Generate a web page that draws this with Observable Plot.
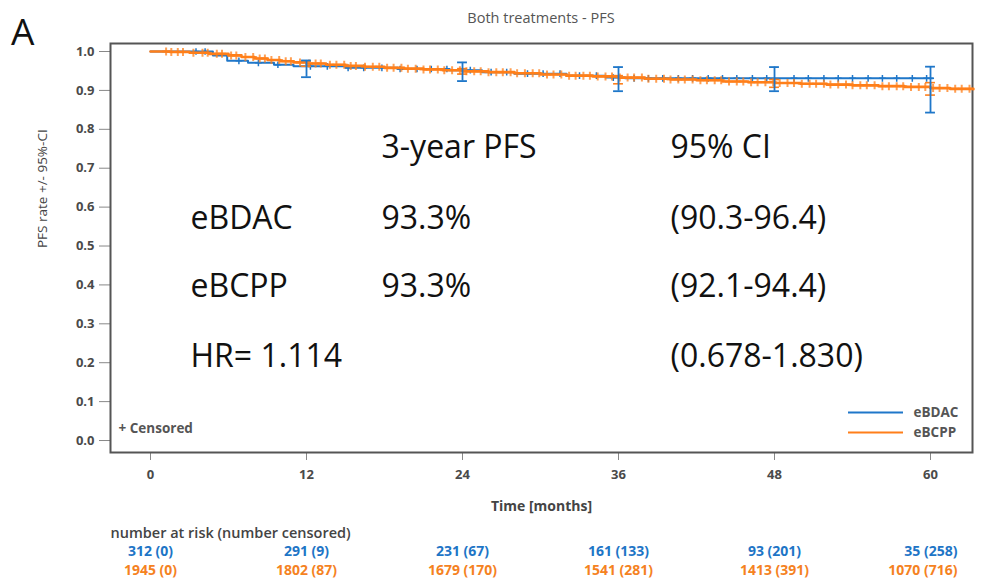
<!DOCTYPE html>
<html><head><meta charset="utf-8">
<script src="https://cdn.jsdelivr.net/npm/d3@7"></script>
<script src="https://cdn.jsdelivr.net/npm/@observablehq/plot@0.6"></script>
<style>
body{margin:0;background:#fff;overflow:hidden}
#wrap{position:relative;width:983px;height:583px}
.ov{position:absolute;font-family:"Open Sans",sans-serif;line-height:1;white-space:nowrap}
</style></head>
<body><div id="wrap">
<div class="ov" style="left:11px;top:12px;font-size:37px;color:#111">A</div>
<div class="ov" style="left:341px;width:400px;top:11px;text-align:center;font-size:14.5px;color:#555">Both treatments - PFS</div>
<div id="chart"></div>
</div>
<script>
// ---- data ----
const blueTimes = [0, 4.8, 5.9, 7.5, 9.5, 11, 15, 19, 23, 25.5, 28, 32, 35, 36.5, 60.2];
const blueSurv  = [1.0, 0.99, 0.976, 0.971, 0.966, 0.962, 0.958, 0.955, 0.952, 0.947, 0.943, 0.938, 0.933, 0.931, 0.931];
const orangeTimes = [0, 1.5, 3, 4.5, 6, 7, 8, 9, 10, 11, 12, 13.5, 15, 16.5, 18, 19.5, 21, 22.5, 24, 26, 28, 30, 32, 34, 36, 38, 40, 42, 44, 46, 48, 50, 52, 54, 56, 58, 60, 61.5, 63.3];
const orangeSurv  = [1.0, 0.999, 0.997, 0.994, 0.99, 0.986, 0.982, 0.978, 0.975, 0.972, 0.969, 0.966, 0.963, 0.961, 0.958, 0.956, 0.954, 0.952, 0.949, 0.947, 0.944, 0.941, 0.938, 0.936, 0.933, 0.93, 0.928, 0.926, 0.923, 0.921, 0.919, 0.917, 0.915, 0.913, 0.911, 0.909, 0.906, 0.904, 0.903];
const blueCensor = [3.5, 4.2, 6.8, 8.3, 9.8, 12.3, 13.6, 15.2, 16.4, 17.8, 19.2, 20.5, 21.6, 22.8, 24.6, 26.2, 27.4, 29.0, 30.2, 31.5, 33.0, 34.3, 35.6, 37.2, 38.3, 39.4, 40.6, 41.7, 42.9, 44.0, 45.1, 46.3, 47.4, 49.5, 50.6, 51.8, 52.9, 54.0, 55.2, 56.3, 57.4, 58.6, 59.7];
const orangeCensor = [1.2,1.6,2.1,2.5,3.3,4.0,4.4,5.1,5.5,6.2,6.6,7.3,7.9,8.4,8.8,9.3,9.9,10.4,10.8,11.5,12.2,12.7,13.1,13.8,14.3,14.9,15.4,15.8,16.5,17.1,17.6,18.2,18.7,19.3,19.8,20.4,21.0,21.5,22.1,22.6,23.2,23.8,24.3,24.9,25.4,26.0,26.6,27.1,27.7,28.2,28.8,29.4,29.9,30.5,31.0,31.6,32.2,32.7,33.3,33.8,34.4,35.0,35.5,36.1,36.7,37.2,37.8,38.3,38.9,39.5,40.0,40.6,41.1,41.7,42.3,42.8,43.4,43.9,44.5,45.1,45.6,46.2,46.7,47.3,47.9,48.4,49.0,49.5,50.1,50.7,51.2,51.8,52.3,52.9,53.5,54.0,54.6,55.1,55.7,56.3,56.8,57.4,57.9,58.5,59.1,59.6,60.2,60.7,61.3,61.9,62.4,63.0];
const ciTimes = [12, 24, 36, 48, 60];
const blueCiLo = [0.934, 0.924, 0.898, 0.898, 0.843];
const blueCiHi = [0.977, 0.972, 0.960, 0.960, 0.961];
const orangeCiLo = [0.962, 0.942, 0.917, 0.908, 0.888];
const orangeCiHi = [0.975, 0.956, 0.938, 0.928, 0.920];
const riskTimes = [0, 12, 24, 36, 48, 60];
const blueRisk = ["312 (0)", "291 (9)", "231 (67)", "161 (133)", "93 (201)", "35 (258)"];
const orangeRisk = ["1945 (0)", "1802 (87)", "1679 (170)", "1541 (281)", "1413 (391)", "1070 (716)"];
const xTicks = [0, 12, 24, 36, 48, 60];
const yTicks = [0, 0.1, 0.2, 0.3, 0.4, 0.5, 0.6, 0.7, 0.8, 0.9, 1.0];
const seriesNames = ["eBDAC", "eBCPP"];
const tableHeader = ["", "3-year PFS", "95% CI"];
const tableRowLabels = ["eBDAC", "eBCPP", "HR= 1.114"];
const tablePFS = ["93.3%", "93.3%", ""];
const tableCI = ["(90.3-96.4)", "(92.1-94.4)", "(0.678-1.830)"];

// ---- layout / style ----
const BLUE = "#1f77c9", ORANGE = "#ff7f1a";
const BLUE_T = "#1e75c6", ORANGE_T = "#f5821f";
const W = 983, H = 583, mL = 110, mR = 11, mT = 43, mB = 131;
const xDomain = [-3.077, 63.23], yDomain = [-0.0308, 1.0206];
const xs = d3.scaleLinear().domain(xDomain).range([mL, W - mR]);
const ys = d3.scaleLinear().domain(yDomain).range([H - mB, mT]);

const km = (times, surv) => times.map((t, i) => ({t, s: surv[i]}));
const stepAt = (times, surv, t) => { let v = surv[0]; for (let i = 0; i < times.length; i++) if (times[i] <= t) v = surv[i]; return v; };
const blueKM = km(blueTimes, blueSurv), orangeKM = km(orangeTimes, orangeSurv);
const blueC = blueCensor.map(t => ({t, s: stepAt(blueTimes, blueSurv, t)}));
const orangeC = orangeCensor.map(t => ({t, s: stepAt(orangeTimes, orangeSurv, t)}));
const blueCI = ciTimes.map((t, i) => ({t, lo: blueCiLo[i], hi: blueCiHi[i]}));
const orangeCI = ciTimes.map((t, i) => ({t, lo: orangeCiLo[i], hi: orangeCiHi[i]}));
const cap = 0.38;

const errMarks = (data, color, w) => [
  Plot.ruleX(data, {x: "t", y1: "lo", y2: "hi", stroke: color, strokeWidth: w}),
  Plot.ruleY(data, {y: "lo", x1: d => d.t - cap, x2: d => d.t + cap, stroke: color, strokeWidth: w}),
  Plot.ruleY(data, {y: "hi", x1: d => d.t - cap, x2: d => d.t + cap, stroke: color, strokeWidth: w})
];

// annotation table
const colDx = [80, 271, 560], rowDy = [104, 175, 243, 313];
const tableCells = [];
tableHeader.forEach((s, c) => { if (s) tableCells.push({s, c, r: 0}); });
tableRowLabels.forEach((s, i) => {
  tableCells.push({s, c: 0, r: i + 1});
  if (tablePFS[i]) tableCells.push({s: tablePFS[i], c: 1, r: i + 1});
  tableCells.push({s: tableCI[i], c: 2, r: i + 1});
});
const tableMarks = tableCells.map(d => Plot.text([d.s], {
  frameAnchor: "top-left", dx: colDx[d.c], dy: rowDy[d.r], textAnchor: "start", lineAnchor: "middle",
  fontSize: 32, fill: "#111", text: v => v
}));

const legendX1 = xs.invert(848), legendX2 = xs.invert(903), legendTx = xs.invert(913);
const legendY = [ys.invert(412), ys.invert(432)];
const legend = seriesNames.map((n, i) => ({n, y: legendY[i], c: i ? ORANGE : BLUE}));

const riskStyle = {fontWeight: "bold", fontSize: 14, frameAnchor: "bottom"};

const chart = Plot.plot({
  width: W, height: H, marginLeft: mL, marginRight: mR, marginTop: mT, marginBottom: mB,
  x: {domain: xDomain}, y: {domain: yDomain},
  style: {fontFamily: "Open Sans, sans-serif", fontSize: "12px", color: "#444", background: "transparent"},
  marks: [
    Plot.axisY({ticks: yTicks, tickFormat: d => d.toFixed(1), tickSize: 11, tickPadding: 5, label: null, fontWeight: "bold", fontSize: 13, fill: "#4a4a4a", stroke: "#888"}),
    Plot.axisX({ticks: xTicks, tickSize: 8, tickPadding: 9, label: null, fontWeight: "bold", fontSize: 13, fill: "#4a4a4a", stroke: "#888"}),
    Plot.frame({stroke: "#555", strokeWidth: 2}),
    Plot.line(blueKM, {x: "t", y: "s", curve: "step-after", stroke: BLUE, strokeWidth: 2}),
    Plot.dot(blueC, {x: "t", y: "s", symbol: "plus", r: 2.3, stroke: BLUE, strokeWidth: 1.5}),
    Plot.line(orangeKM, {x: "t", y: "s", curve: "step-after", stroke: ORANGE, strokeWidth: 2.6}),
    Plot.dot(orangeC, {x: "t", y: "s", symbol: "plus", r: 2.7, stroke: ORANGE, strokeWidth: 2, strokeOpacity: 0.75}),
    ...errMarks(orangeCI, ORANGE, 1.6),
    ...errMarks(blueCI, BLUE, 1.8),
    ...tableMarks,
    Plot.ruleY(legend, {y: "y", x1: legendX1, x2: legendX2, stroke: "c", strokeWidth: 2}),
    Plot.text(legend, {y: "y", x: legendTx, text: "n", textAnchor: "start", fontWeight: "bold", fill: "#555", fontSize: 13.5}),
    Plot.text(["+ Censored"], {frameAnchor: "bottom-left", dx: 8, dy: -20, textAnchor: "start", fontWeight: "bold", fill: "#555", fontSize: 13.5}),
    Plot.text(["PFS rate +/- 95%-CI"], {frameAnchor: "left", dx: -68, rotate: -90, fill: "#444", fontSize: 13.5}),
    Plot.text(["Time [months]"], {frameAnchor: "bottom", dy: 58, fontWeight: "bold", fill: "#444", fontSize: 14}),
    Plot.text(["number at risk (number censored)"], {frameAnchor: "bottom-left", dy: 85, textAnchor: "start", fill: "#444", fontWeight: 600, fontSize: 14.5}),
    Plot.text(riskTimes.slice(0, 5), {x: d => d, text: (d, i) => blueRisk[i], dy: 103, fill: BLUE_T, ...riskStyle}),
    Plot.text(riskTimes.slice(0, 5), {x: d => d, text: (d, i) => orangeRisk[i], dy: 122, fill: ORANGE_T, ...riskStyle}),
    Plot.text(riskTimes.slice(5), {x: d => d, text: () => blueRisk[5], dy: 103, dx: 27, textAnchor: "end", fill: BLUE_T, ...riskStyle}),
    Plot.text(riskTimes.slice(5), {x: d => d, text: () => orangeRisk[5], dy: 122, dx: 27, textAnchor: "end", fill: ORANGE_T, ...riskStyle})
  ]
});
chart.style.position = "absolute"; chart.style.left = "0"; chart.style.top = "0";
document.getElementById("chart").appendChild(chart);
</script>
</body></html>
